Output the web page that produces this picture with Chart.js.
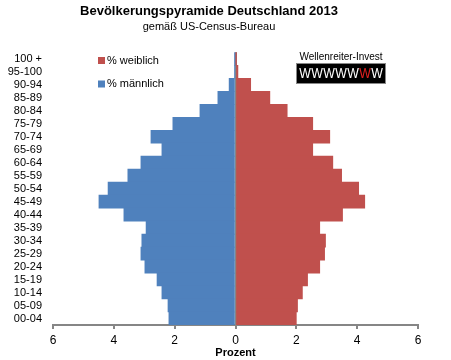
<!DOCTYPE html>
<html>
<head>
<meta charset="utf-8">
<script src="https://cdn.jsdelivr.net/npm/chart.js@4"></script>
<style>
html,body{margin:0;padding:0;background:#fff;}
#wrap{width:451px;height:360px;position:relative;}
</style>
</head>
<body>
<div id="wrap"><canvas id="c" width="451" height="360"></canvas></div>
<script>
const categories = ['100 +','95-100','90-94','85-89','80-84','75-79','70-74','65-69','60-64','55-59','50-54','45-49','40-44','35-39','30-34','25-29','20-24','15-19','10-14','05-09','00-04'];
const maleValues = [0.005,0.02,0.21,0.58,1.17,2.06,2.78,2.42,3.11,3.54,4.19,4.49,3.67,2.94,3.08,3.11,2.98,2.58,2.42,2.22,2.19];
const femaleValues = [0.01,0.08,0.50,1.13,1.70,2.54,3.10,2.54,3.20,3.49,4.05,4.25,3.52,2.77,2.96,2.93,2.77,2.37,2.20,2.04,2.00];
const xTicks = [-6,-4,-2,0,2,4,6];
const seriesNames = ['% weiblich','% männlich'];
const FONT = "'Liberation Sans', Arial, sans-serif";
const GREY = '#868686';

const overlay = {
  id: 'overlay',
  afterDraw(chart) {
    const ctx = chart.ctx;
    ctx.save();
    const ds = chart.data.datasets;
    const ly = [60.5, 84];
    [ds[0], ds[1]].forEach((d, i) => {
      ctx.fillStyle = d.backgroundColor;
      ctx.fillRect(98, ly[i] - 3.5, 7, 7);
      ctx.fillStyle = '#000';
      ctx.font = '11px ' + FONT;
      ctx.textBaseline = 'middle';
      ctx.textAlign = 'left';
      ctx.fillText(d.label, 107, ly[i]);
    });
    ctx.font = '10px ' + FONT;
    ctx.textAlign = 'center';
    ctx.fillStyle = '#000';
    ctx.fillText('Wellenreiter-Invest', 341, 57.5);
    ctx.fillRect(296, 63, 90, 21);
    ctx.strokeStyle = '#888';
    ctx.lineWidth = 1;
    ctx.strokeRect(296.5, 63.5, 89, 20);
    ctx.font = '15px ' + FONT;
    for (let i = 0; i < 7; i++) {
      ctx.save();
      ctx.translate(305 + 12 * i, 74);
      ctx.scale(0.82, 1);
      ctx.fillStyle = i === 5 ? '#e02020' : '#fff';
      ctx.fillText('W', 0, 0);
      ctx.restore();
    }
    ctx.restore();
  }
};

new Chart(document.getElementById('c'), {
  type: 'bar',
  data: {
    labels: categories,
    datasets: [
      { label: seriesNames[0], data: femaleValues, backgroundColor: '#C0504D', categoryPercentage: 1, barPercentage: 1, borderWidth: 0 },
      { label: seriesNames[1], data: maleValues.map(v => -v), backgroundColor: '#4F81BD', categoryPercentage: 1, barPercentage: 1, borderWidth: 0 }
    ]
  },
  options: {
    indexAxis: 'y',
    responsive: false,
    animation: false,
    layout: { padding: { left: 0, right: 33, top: 0, bottom: 0 } },
    plugins: {
      legend: { display: false },
      tooltip: { enabled: false },
      title: {
        display: true,
        text: 'Bevölkerungspyramide Deutschland 2013',
        color: '#000',
        font: { family: FONT, size: 13, weight: 'bold' },
        padding: { top: 4, bottom: 1 }
      },
      subtitle: {
        display: true,
        text: 'gemäß US-Census-Bureau',
        color: '#000',
        font: { family: FONT, size: 11 },
        padding: { top: 0, bottom: 18.5 }
      }
    },
    scales: {
      x: {
        stacked: true,
        min: -6, max: 6,
        z: 1,
        afterBuildTicks(scale) { scale.ticks = xTicks.map(v => ({ value: v })); },
        afterFit(scale) { scale.height = 35; },
        ticks: {
          color: '#000',
          font: { family: FONT, size: 12 },
          padding: 4,
          maxRotation: 0,
          callback: v => Math.abs(v)
        },
        grid: {
          drawOnChartArea: true,
          color: c => (c.tick && c.tick.value === 0) ? GREY : 'rgba(0,0,0,0)',
          lineWidth: 2,
          tickColor: GREY,
          tickLength: 4
        },
        border: { display: true, color: GREY, width: 2 },
        title: {
          display: true,
          text: 'Prozent',
          color: '#000',
          font: { family: FONT, size: 11, weight: 'bold' },
          padding: { top: 1, bottom: 0 }
        }
      },
      y: {
        stacked: true,
        afterFit(scale) { scale.width = 53; },
        grid: { display: false, drawTicks: false },
        border: { display: false },
        ticks: {
          color: '#000',
          font: { family: FONT, size: 11 },
          padding: 11,
          autoSkip: false
        }
      }
    }
  },
  plugins: [overlay]
});
</script>
</body>
</html>
